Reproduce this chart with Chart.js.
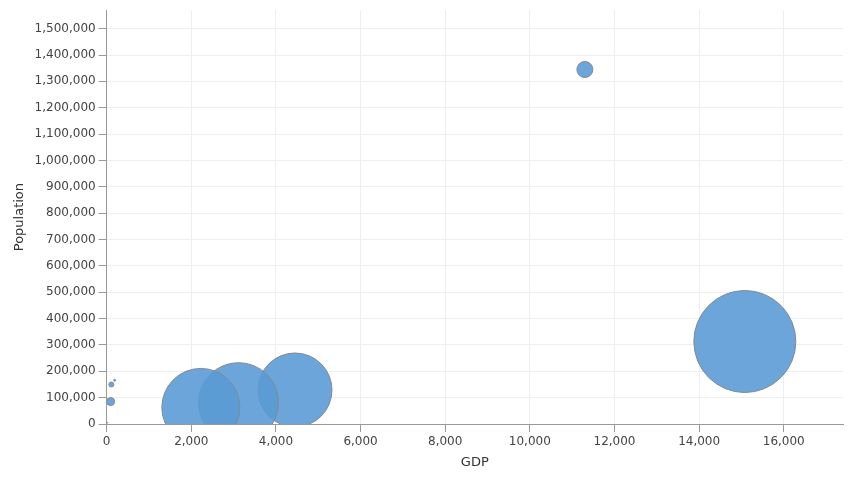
<!DOCTYPE html>
<html><head><script src="https://cdn.jsdelivr.net/npm/chart.js"></script>
<style>body{margin:0;background:#fff}#w{width:854px;height:480px}</style></head>
<body><div id="w"><canvas id="c"></canvas></div>
<script>
const gdp=[11300,15080,4450,3115,2225,94,110,190,10];
const population=[1345000,313000,129000,81000,63000,85000,150000,166000,5000];
const radius=[8,51,37,40,39,4,2.5,1,0.5];
const xTicks=[0,2000,4000,6000,8000,10000,12000,14000,16000];
const yTicks=[0,100000,200000,300000,400000,500000,600000,700000,800000,900000,1000000,1100000,1200000,1300000,1400000,1500000];
const pts=gdp.map((g,i)=>({x:g,y:population[i],r:radius[i]}));
const fmt=v=>Math.round(v).toLocaleString('en-US');
new Chart(document.getElementById('c'),{type:'bubble',
data:{datasets:[{data:pts,backgroundColor:'rgba(91,155,213,0.9)',borderColor:'#7f8a96',borderWidth:1}]},
options:{responsive:true,maintainAspectRatio:false,animation:false,
layout:{autoPadding:false,padding:{left:8,right:11,top:10,bottom:6}},
plugins:{legend:{display:false},tooltip:{enabled:false}},
scales:{
x:{min:0,max:17400,afterBuildTicks:a=>{a.ticks=xTicks.map(v=>({value:v}));},
title:{display:true,text:'GDP',color:'#333',font:{family:'DejaVu Sans',size:13},padding:{top:2}},
ticks:{color:'#444',font:{family:'DejaVu Sans',size:12},callback:v=>fmt(v)},
grid:{color:'#eee',tickColor:'#999'},border:{color:'#999'}},
y:{min:0,max:1570000,afterBuildTicks:a=>{a.ticks=yTicks.map(v=>({value:v}));},
title:{display:true,text:'Population',color:'#333',font:{family:'DejaVu Sans',size:13}},
ticks:{color:'#444',font:{family:'DejaVu Sans',size:12},callback:v=>fmt(v)},
grid:{color:'#eee',tickColor:'#999'},border:{color:'#999'}}
}}});
</script></body></html>
